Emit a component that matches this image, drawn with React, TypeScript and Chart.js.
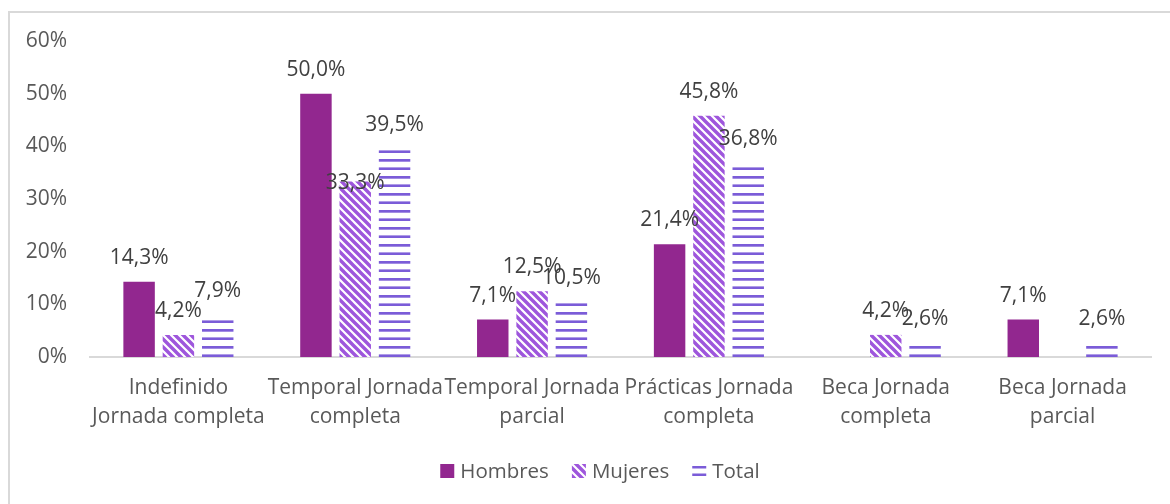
import React, { useEffect, useRef } from "react";
import { Chart, registerables } from "chart.js";

Chart.register(...registerables);

const categories: string[][] = [
  ["Indefinido", "Jornada completa"],
  ["Temporal Jornada", "completa"],
  ["Temporal Jornada", "parcial"],
  ["Prácticas Jornada", "completa"],
  ["Beca Jornada", "completa"],
  ["Beca Jornada", "parcial"],
];
const hombres = [14.3, 50.0, 7.1, 21.4, 0, 7.1];
const mujeres = [4.2, 33.3, 12.5, 45.8, 4.2, 0];
const total = [7.9, 39.5, 10.5, 36.8, 2.6, 2.6];
const seriesNames = ["Hombres", "Mujeres", "Total"];
const yTicks = [0, 10, 20, 30, 40, 50, 60];

const FONT = "'Open Sans', 'Noto Sans', sans-serif";
const COL_H = "#92278F";
const COL_M = "#9E56DC";
const COL_T = "#7B5CD8";
// label vertical nudges (dataset-index, data-index) -> extra px down, mimicking reference collision handling
const LABEL_NUDGE: Record<string, number> = { "1-1": 25 };

function diagPattern(): CanvasPattern | string {
  const c = document.createElement("canvas");
  c.width = 8;
  c.height = 8;
  const g = c.getContext("2d");
  if (!g) return COL_M;
  g.fillStyle = "#ffffff";
  g.fillRect(0, 0, 8, 8);
  g.strokeStyle = COL_M;
  g.lineWidth = 3.4;
  g.beginPath();
  for (let k = -2; k <= 2; k++) {
    g.moveTo(k * 8 - 2, -2);
    g.lineTo(k * 8 + 10, 10);
  }
  g.stroke();
  const p = g.createPattern(c, "repeat");
  return p || COL_M;
}

function hLinePattern(): CanvasPattern | string {
  const c = document.createElement("canvas");
  c.width = 8;
  c.height = 17;
  const g = c.getContext("2d");
  if (!g) return COL_T;
  g.fillStyle = "#ffffff";
  g.fillRect(0, 0, 8, 17);
  g.fillStyle = COL_T;
  g.fillRect(0, 6, 8, 2.7);
  g.fillRect(0, 14.4, 8, 2.6);
  const p = g.createPattern(c, "repeat");
  return p || COL_T;
}

const fmt = (v: number) => v.toFixed(1).replace(".", ",") + "%";

export default function App() {
  const ref = useRef<HTMLCanvasElement>(null);
  useEffect(() => {
    if (!ref.current) return;
    const pM = diagPattern();
    const pT = hLinePattern();

    const framePlugin = {
      id: "frame",
      beforeDraw(chart: any) {
        const ctx = chart.ctx;
        ctx.save();
        ctx.strokeStyle = "#d9d9d9";
        ctx.lineWidth = 2;
        ctx.beginPath();
        ctx.moveTo(9, 504);
        ctx.lineTo(9, 12);
        ctx.lineTo(1170, 12);
        ctx.stroke();
        ctx.restore();
      },
    };

    const labelPlugin = {
      id: "valueLabels",
      afterDatasetsDraw(chart: any) {
        const ctx = chart.ctx;
        ctx.save();
        ctx.font = `21px ${FONT}`;
        ctx.fillStyle = "#404040";
        ctx.textAlign = "center";
        ctx.textBaseline = "middle";
        chart.data.datasets.forEach((ds: any, di: number) => {
          const meta = chart.getDatasetMeta(di);
          meta.data.forEach((el: any, i: number) => {
            const v = ds.data[i];
            if (!v) return;
            const nudge = LABEL_NUDGE[`${di}-${i}`] || 0;
            ctx.fillText(fmt(v), el.x, el.y - 24 + nudge);
          });
        });
        ctx.restore();
      },
    };

    const legendPlugin = {
      id: "customLegend",
      afterDraw(chart: any) {
        const ctx = chart.ctx;
        ctx.save();
        ctx.font = `20.5px ${FONT}`;
        ctx.textBaseline = "middle";
        ctx.textAlign = "left";
        const box = 14;
        const gapText = 6;
        const gapItem = 23;
        const widths = seriesNames.map((n) => ctx.measureText(n).width);
        const totalW =
          widths.reduce((a: number, b: number) => a + b, 0) +
          seriesNames.length * (box + gapText) +
          (seriesNames.length - 1) * gapItem;
        let x = 600 - totalW / 2;
        const yc = 471;
        seriesNames.forEach((n, i) => {
          if (i === 0) {
            ctx.fillStyle = COL_H;
            ctx.fillRect(x, yc - 7, box, box);
          } else if (i === 1) {
            ctx.fillStyle = pM;
            ctx.fillRect(x, yc - 7, box, box);
          } else {
            ctx.fillStyle = COL_T;
            ctx.fillRect(x, yc - 5, box, 2.5);
            ctx.fillRect(x, yc + 2.5, box, 2.5);
          }
          x += box + gapText;
          ctx.fillStyle = "#595959";
          ctx.fillText(n, x, yc + 1);
          x += widths[i] + gapItem;
        });
        ctx.restore();
      },
    };

    const chart = new Chart(ref.current, {
      type: "bar",
      data: {
        labels: categories,
        datasets: [
          { label: seriesNames[0], data: hombres, backgroundColor: COL_H },
          { label: seriesNames[1], data: mujeres, backgroundColor: pM as any },
          { label: seriesNames[2], data: total, backgroundColor: pT as any },
        ],
      },
      options: {
        animation: false,
        responsive: false,
        maintainAspectRatio: false,
        devicePixelRatio: 1,
        datasets: {
          bar: { categoryPercentage: 0.667, barPercentage: 0.8 },
        },
        layout: { padding: { left: 0, right: 19, top: 41, bottom: 0 } },
        plugins: {
          legend: { display: false },
          tooltip: { enabled: false },
        },
        scales: {
          x: {
            grid: { display: false, drawTicks: false },
            border: { display: true, color: "#d9d9d9", width: 2 },
            ticks: {
              color: "#595959",
              font: { family: FONT, size: 21, lineHeight: 1.38 },
              padding: 17,
              maxRotation: 0,
              autoSkip: false,
            },
            afterFit: (s: any) => {
              s.height = 504 - 357;
            },
          },
          y: {
            min: 0,
            max: 60,
            afterBuildTicks: (s: any) => {
              s.ticks = yTicks.map((v) => ({ value: v }));
            },
            grid: { display: false, drawTicks: false },
            border: { display: false },
            ticks: {
              color: "#595959",
              font: { family: FONT, size: 21 },
              padding: 23,
              callback: (v: any) => `${v}%`,
            },
            afterFit: (s: any) => {
              s.width = 90;
            },
          },
        },
      },
      plugins: [framePlugin, labelPlugin, legendPlugin],
    });
    return () => chart.destroy();
  }, []);

  return (
    <div style={{ position: "fixed", left: 0, top: 0, width: 1170, height: 504, background: "#fff" }}>
      <canvas ref={ref} width={1170} height={504} style={{ width: 1170, height: 504, display: "block" }} />
    </div>
  );
}
